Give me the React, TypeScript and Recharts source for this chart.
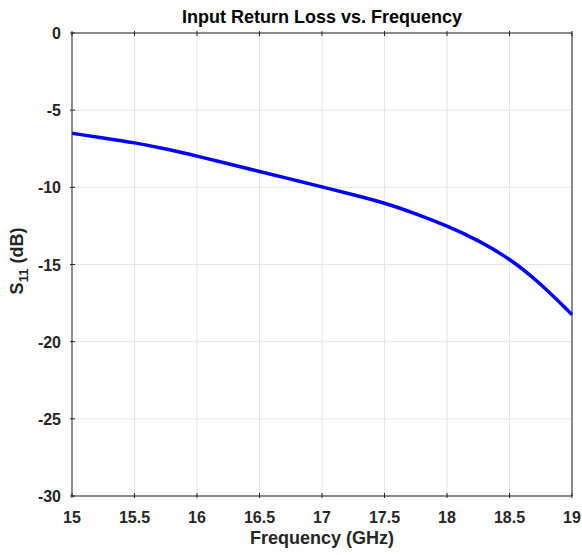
import React from 'react';
import { LineChart, Line, XAxis, YAxis, CartesianGrid, Customized } from 'recharts';

const frequencies = [15, 15.25, 15.5, 15.75, 16, 16.25, 16.5, 16.75, 17, 17.25, 17.5, 17.75, 18, 18.25, 18.5, 18.75, 19];
const s11 = [-6.5, -6.8, -7.12, -7.52, -7.98, -8.47, -8.97, -9.47, -9.97, -10.48, -11.03, -11.72, -12.52, -13.47, -14.68, -16.3, -18.25];
const xTicks = [15, 15.5, 16, 16.5, 17, 17.5, 18, 18.5, 19];
const yTicks = [-30, -25, -20, -15, -10, -5, 0];

const data = frequencies.map((f, i) => ({ f, s: s11[i] }));

const FONT = '"Liberation Sans", Arial, Helvetica, sans-serif';
const AX = '#262626';

const BottomTick = (p: any) => (
  <g>
    <line x1={p.x} x2={p.x} y1={p.y} y2={p.y - 5} stroke={AX} strokeWidth={1} />
    <text x={p.x} y={p.y + 25} textAnchor="middle" fontFamily={FONT} fontWeight="bold" fontSize={16} fill="#262626">
      {p.payload.value}
    </text>
  </g>
);
const TopTick = (p: any) => (
  <line x1={p.x} x2={p.x} y1={p.y} y2={p.y + 5} stroke={AX} strokeWidth={1} />
);
const LeftTick = (p: any) => (
  <g>
    <line x1={p.x} x2={p.x + 5} y1={p.y} y2={p.y} stroke={AX} strokeWidth={1} />
    <text x={p.x - 9} y={p.y + 6} textAnchor="end" fontFamily={FONT} fontWeight="bold" fontSize={16} fill="#262626">
      {p.payload.value}
    </text>
  </g>
);
const RightTick = (p: any) => (
  <line x1={p.x} x2={p.x - 5} y1={p.y} y2={p.y} stroke={AX} strokeWidth={1} />
);

const Labels = () => (
  <g fontFamily={FONT} fontWeight="bold" fill="#000">
    <text x={322} y={23} textAnchor="middle" fontSize={18}>Input Return Loss vs. Frequency</text>
    <text x={322} y={544} textAnchor="middle" fontSize={18} fill="#262626">Frequency (GHz)</text>
    <text transform="translate(23, 261) rotate(-90)" textAnchor="middle" fontSize={18} fill="#262626">
      S<tspan fontSize={13} dy={5}>11</tspan><tspan dy={-5}> (dB)</tspan>
    </text>
  </g>
);

export default function App() {
  return (
    <div style={{ position: 'absolute', left: 0, top: 0, background: '#fff' }}>
      <LineChart width={582} height={555} data={data} margin={{ top: 32, right: 9, bottom: 0, left: 0 }}>
        <CartesianGrid stroke="#e4e4e4" strokeWidth={1} />
        <XAxis dataKey="f" type="number" domain={[15, 19]} ticks={xTicks} interval={0} height={59}
          stroke={AX} tickSize={0} tickLine={false} tick={<BottomTick />} />
        <XAxis xAxisId="top" orientation="top" dataKey="f" type="number" domain={[15, 19]} ticks={xTicks} interval={0} height={1}
          stroke={AX} tickSize={0} tickLine={false} tick={<TopTick />} />
        <YAxis type="number" domain={[-30, 0]} ticks={yTicks} interval={0} width={72}
          stroke={AX} tickSize={0} tickLine={false} tick={<LeftTick />} />
        <YAxis yAxisId="right" orientation="right" type="number" domain={[-30, 0]} ticks={yTicks} interval={0} width={1}
          stroke={AX} tickSize={0} tickLine={false} tick={<RightTick />} />
        <Line dataKey="s" type="natural" stroke="#0000ff" strokeWidth={3.5} dot={false} isAnimationActive={false} />
        <Customized component={Labels} />
      </LineChart>
    </div>
  );
}
